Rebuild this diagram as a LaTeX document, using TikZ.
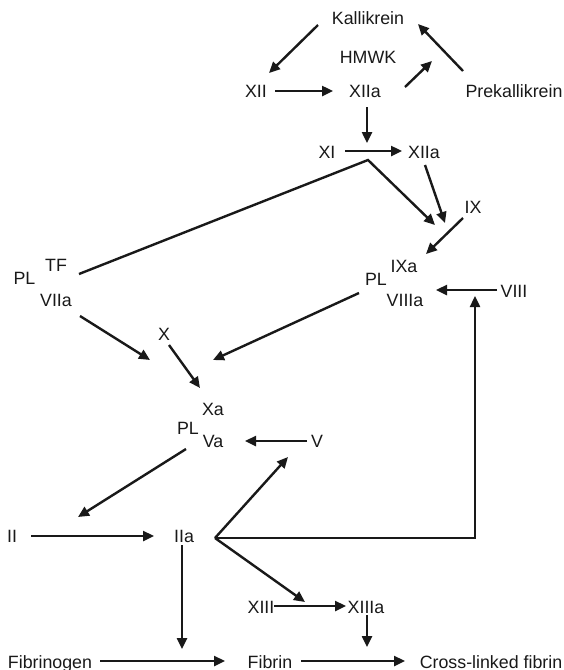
\documentclass[tikz,border=0pt]{standalone}
\usepackage{fontspec}
\setmainfont{Liberation Sans}
\usetikzlibrary{arrows.meta}
\begin{document}
\begin{tikzpicture}[x=0.5pt,y=-0.5pt,
  lbl/.style={inner sep=0pt,anchor=base,text=black!90,font=\fontsize{8.9}{10}\selectfont},
  con/.style={line width=1.2pt,draw=black!90,-{Triangle[length=5.5pt,width=5pt]}},
  seg/.style={line width=1.2pt,draw=black!90}]
\useasboundingbox (0,0) rectangle (563,670);
% labels (base = visual centre + 6.4)
\node[lbl] (kal)   at (368,24.4)  {Kallikrein};
\node[lbl] (hmwk)  at (368,63.4)  {HMWK};
\node[lbl] (xii)   at (256,97.4)  {XII};
\node[lbl] (xiia)  at (365,97.4)  {XIIa};
\node[lbl] (prek)  at (514,97.4)  {Prekallikrein};
\node[lbl] (xi)    at (327,158.4) {XI};
\node[lbl] (xiib)  at (424,158.4) {XIIa};
\node[lbl] (ix)    at (473,213.4) {IX};
\node[lbl] (tf)    at (56,271.4)  {TF};
\node[lbl] (pla)   at (24.5,284.4){PL};
\node[lbl] (viia)  at (56,306.4)  {VIIa};
\node[lbl] (ixa)   at (404,272.4) {IXa};
\node[lbl] (plb)   at (376,285.4) {PL};
\node[lbl] (viiia) at (405,306.4) {VIIIa};
\node[lbl] (viii)  at (514,297.4) {VIII};
\node[lbl] (x)     at (164,340.4) {X};
\node[lbl] (xa)    at (213,415.4) {Xa};
\node[lbl] (plc)   at (188,434.4) {PL};
\node[lbl] (va)    at (213,447.4) {Va};
\node[lbl] (v)     at (317,447.4) {V};
\node[lbl] (ii)    at (12,542.4)  {II};
\node[lbl] (iia)   at (184,542.4) {IIa};
\node[lbl] (xiii)  at (261,613.4) {XIII};
\node[lbl] (xiiia) at (366,613.4) {XIIIa};
\node[lbl] (fbg)   at (50,668.4)  {Fibrinogen};
\node[lbl] (fbn)   at (270,668.4) {Fibrin};
\node[lbl] (clf)   at (491,668.4) {Cross-linked fibrin};
% connector end points
\coordinate (k1) at (318,25);   \coordinate (k2) at (269,73);
\coordinate (a1) at (275,91);   \coordinate (a2) at (333,91);
\coordinate (h1) at (405,87);   \coordinate (h2) at (432,61);
\coordinate (p1) at (463,71);   \coordinate (p2) at (418,24);
\coordinate (d1) at (367,107);  \coordinate (d2) at (367,143);
\coordinate (e1) at (345,151);  \coordinate (e2) at (402,151);
\coordinate (tf1) at (79,274);  \coordinate (vx) at (368,160); \coordinate (tf2) at (435,225);
\coordinate (f1) at (425,165);  \coordinate (f2) at (445,223);
\coordinate (g1) at (463,218);  \coordinate (g2) at (426,254);
\coordinate (m1) at (497,290);  \coordinate (m2) at (436,290);
\coordinate (n1) at (80,316);   \coordinate (n2) at (150,360);
\coordinate (o1) at (359,293);  \coordinate (o2) at (213,360);
\coordinate (q1) at (169,345);  \coordinate (q2) at (200,388);
\coordinate (r1) at (307,441);  \coordinate (r2) at (245,441);
\coordinate (s1) at (186,449);  \coordinate (s2) at (78,517);
\coordinate (t1) at (31,536);   \coordinate (t2) at (154,536);
\coordinate (w)  at (215,538);
\coordinate (w1) at (288,457);
\coordinate (w2) at (475,538);  \coordinate (w3) at (475,296);
\coordinate (w4) at (305,602);
\coordinate (u1) at (182,545);  \coordinate (u2) at (182,649);
\coordinate (y1) at (100,661);  \coordinate (y2) at (225,661);
\coordinate (z1) at (274,606);  \coordinate (z2) at (346,606);
\coordinate (c1) at (367,615);  \coordinate (c2) at (367,647);
\coordinate (b1) at (301,661);  \coordinate (b2) at (405,661);
% connectors
\draw[con] (k1) -- (k2);
\draw[con] (a1) -- (a2);
\draw[con] (h1) -- (h2);
\draw[con] (p1) -- (p2);
\draw[con] (d1) -- (d2);
\draw[con] (e1) -- (e2);
\draw[con] (tf1) -- (vx) -- (tf2);
\draw[con] (f1) -- (f2);
\draw[con] (g1) -- (g2);
\draw[con] (m1) -- (m2);
\draw[con] (n1) -- (n2);
\draw[con] (o1) -- (o2);
\draw[con] (q1) -- (q2);
\draw[con] (r1) -- (r2);
\draw[con] (s1) -- (s2);
\draw[con] (t1) -- (t2);
\draw[con] (w) -- (w1);
\draw[con] (w) -- (w2) -- (w3);
\draw[con] (w) -- (w4);
\draw[con] (u1) -- (u2);
\draw[con] (y1) -- (y2);
\draw[con] (z1) -- (z2);
\draw[con] (c1) -- (c2);
\draw[con] (b1) -- (b2);
\end{tikzpicture}
\end{document}
